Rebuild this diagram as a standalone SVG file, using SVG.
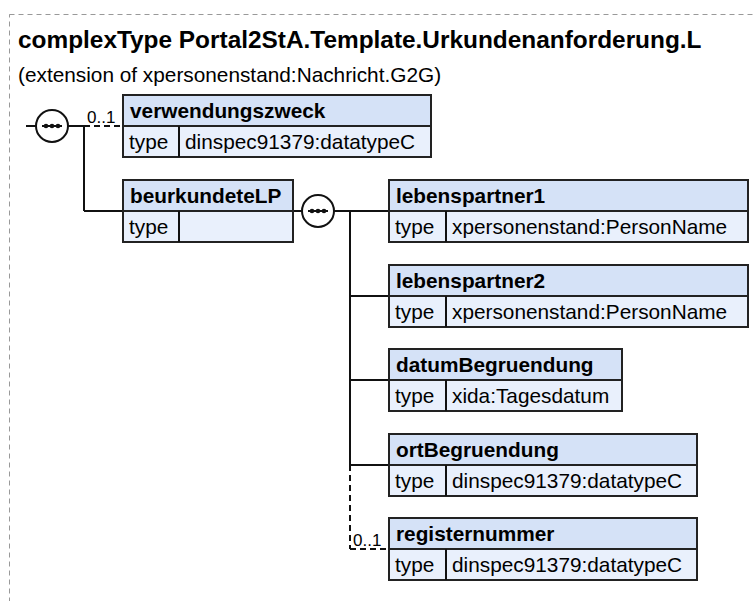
<svg xmlns="http://www.w3.org/2000/svg" width="755" height="601" viewBox="0 0 755 601">
<style>
.t{font-family:"Liberation Sans",Arial,sans-serif;fill:#000}
.title{font-size:24.4px;font-weight:bold}
.sub{font-size:20.8px}
.nm{font-size:20.8px;font-weight:bold}
.ty{font-size:20.8px}
.occ{font-size:17px}
.hd{fill:#d5e2f7;stroke:#222;stroke-width:2}
.bd{fill:#e9f0fc;stroke:#222;stroke-width:2}
.ln{stroke:#111;stroke-width:2;fill:none}
.dl{stroke:#111;stroke-width:2;fill:none;stroke-dasharray:6,4}
.seq{fill:#fff;stroke:#111;stroke-width:2}
</style>
<defs>
<g id="seqsym">
<circle r="16" class="seq"/>
<line x1="-10" y1="0" x2="10" y2="0" stroke="#111" stroke-width="2"/>
<circle cx="-6" cy="0" r="2.3" fill="#111"/>
<circle cx="0" cy="0" r="2.3" fill="#111"/>
<circle cx="6" cy="0" r="2.3" fill="#111"/>
</g>
</defs>
<rect x="9.5" y="14.5" width="800" height="700" fill="none" stroke="#999" stroke-width="1" stroke-dasharray="5,4"/>
<text class="t title" x="18" y="48">complexType Portal2StA.Template.Urkundenanforderung.L</text>
<text class="t sub" x="18" y="82">(extension of xpersonenstand:Nachricht.G2G)</text>

<g id="connectors">
<line class="ln" x1="26" y1="126" x2="36" y2="126"/>
<line class="ln" x1="68" y1="126" x2="84" y2="126"/>
<line class="dl" x1="84" y1="126" x2="123" y2="126"/>
<line class="ln" x1="84" y1="126" x2="84" y2="211"/>
<line class="ln" x1="84" y1="211" x2="123" y2="211"/>
<line class="ln" x1="293" y1="211" x2="302" y2="211"/>
<line class="ln" x1="334" y1="211" x2="389" y2="211"/>
<line class="ln" x1="350" y1="211" x2="350" y2="465"/>
<line class="ln" x1="350" y1="296" x2="389" y2="296"/>
<line class="ln" x1="350" y1="380" x2="389" y2="380"/>
<line class="ln" x1="350" y1="465" x2="389" y2="465"/>
<line class="dl" x1="350" y1="465" x2="350" y2="549"/>
<line class="dl" x1="350" y1="549" x2="389" y2="549"/>
<text class="t occ" x="87" y="123">0..1</text>
<text class="t occ" x="353" y="546">0..1</text>
</g>

<g id="seq1"><use href="#seqsym" x="52" y="126"/></g>
<g id="seq2"><use href="#seqsym" x="318" y="211"/></g>

<g id="verwendungszweck">
<rect class="hd" x="123" y="95" width="308" height="31"/>
<rect class="bd" x="123" y="126" width="308" height="31"/>
<line class="ln" x1="179" y1="126" x2="179" y2="157"/>
<text class="t nm" x="130" y="118">verwendungszweck</text>
<text class="t ty" x="129" y="149">type</text>
<text class="t ty" x="185" y="149">dinspec91379:datatypeC</text>
</g>

<g id="beurkundeteLP">
<rect class="hd" x="123" y="180" width="170" height="31"/>
<rect class="bd" x="123" y="211" width="170" height="31"/>
<line class="ln" x1="179" y1="211" x2="179" y2="242"/>
<text class="t nm" x="130" y="203">beurkundeteLP</text>
<text class="t ty" x="129" y="234">type</text>
</g>

<g id="lebenspartner1">
<rect class="hd" x="389" y="180" width="359" height="31"/>
<rect class="bd" x="389" y="211" width="359" height="31"/>
<line class="ln" x1="446" y1="211" x2="446" y2="242"/>
<text class="t nm" x="396" y="203">lebenspartner1</text>
<text class="t ty" x="395" y="234">type</text>
<text class="t ty" x="452" y="234">xpersonenstand:PersonName</text>
</g>

<g id="lebenspartner2">
<rect class="hd" x="389" y="265" width="359" height="31"/>
<rect class="bd" x="389" y="296" width="359" height="31"/>
<line class="ln" x1="446" y1="296" x2="446" y2="327"/>
<text class="t nm" x="396" y="288">lebenspartner2</text>
<text class="t ty" x="395" y="319">type</text>
<text class="t ty" x="452" y="319">xpersonenstand:PersonName</text>
</g>

<g id="datumBegruendung">
<rect class="hd" x="389" y="349" width="233" height="31"/>
<rect class="bd" x="389" y="380" width="233" height="31"/>
<line class="ln" x1="446" y1="380" x2="446" y2="411"/>
<text class="t nm" x="396" y="372">datumBegruendung</text>
<text class="t ty" x="395" y="403">type</text>
<text class="t ty" x="452" y="403">xida:Tagesdatum</text>
</g>

<g id="ortBegruendung">
<rect class="hd" x="389" y="434" width="308" height="31"/>
<rect class="bd" x="389" y="465" width="308" height="31"/>
<line class="ln" x1="446" y1="465" x2="446" y2="496"/>
<text class="t nm" x="396" y="457">ortBegruendung</text>
<text class="t ty" x="395" y="488">type</text>
<text class="t ty" x="452" y="488">dinspec91379:datatypeC</text>
</g>

<g id="registernummer">
<rect class="hd" x="389" y="518" width="308" height="31"/>
<rect class="bd" x="389" y="549" width="308" height="31"/>
<line class="ln" x1="446" y1="549" x2="446" y2="580"/>
<text class="t nm" x="396" y="541">registernummer</text>
<text class="t ty" x="395" y="572">type</text>
<text class="t ty" x="452" y="572">dinspec91379:datatypeC</text>
</g>
</svg>
